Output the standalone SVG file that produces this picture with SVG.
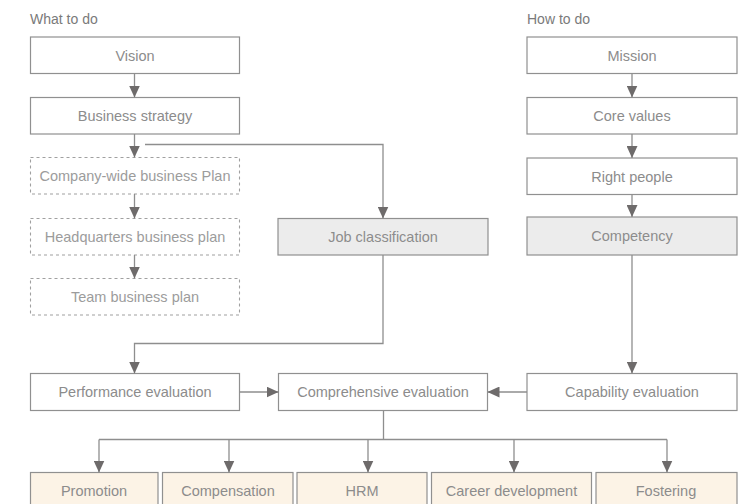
<svg xmlns="http://www.w3.org/2000/svg" width="739" height="504" viewBox="0 0 739 504">
  <style>
    .box { fill: #ffffff; stroke: #909090; stroke-width: 1.2; }
    .dash { fill: #ffffff; stroke: #a0a0a0; stroke-width: 1.1; stroke-dasharray: 3 3; }
    .grey { fill: #ececec; stroke: #909090; stroke-width: 1.2; }
    .out { fill: #fcf3e6; stroke: #909090; stroke-width: 1.2; }
    .lbl { font-family: "Liberation Sans", Arial, sans-serif; font-size: 14.5px; fill: #8c8c8c; text-anchor: middle; }
    .lbl.light { fill: #9c9c9c; }
    .head { font-family: "Liberation Sans", Arial, sans-serif; font-size: 14px; fill: #7a7a7a; }
    .conn { fill: none; stroke: #8e8e8e; stroke-width: 1.3; }
    .conn.arr { marker-end: url(#head); }
  </style>
  <defs>
    <marker id="head" viewBox="0 0 12 11" refX="12" refY="5.5" markerWidth="12" markerHeight="11" markerUnits="userSpaceOnUse" orient="auto">
      <path d="M0,0 L12,5.5 L0,11 z" fill="#6e6b6b"/>
    </marker>
  </defs>

  <text class="head" x="30" y="24">What to do</text>
  <text class="head" x="527" y="24">How to do</text>

  <!-- left column -->
  <g id="vision"><rect class="box" x="30.5" y="37" width="209" height="36.5"/><text class="lbl" x="135" y="60.5">Vision</text></g>
  <g id="business-strategy"><rect class="box" x="30.5" y="97.5" width="209" height="36.5"/><text class="lbl" x="135" y="121">Business strategy</text></g>
  <g id="company-plan"><rect class="dash" x="30.5" y="157.5" width="209" height="36.5"/><text class="lbl light" x="135" y="181">Company-wide business Plan</text></g>
  <g id="hq-plan"><rect class="dash" x="30.5" y="218.5" width="209" height="36.5"/><text class="lbl light" x="135" y="242">Headquarters business plan</text></g>
  <g id="team-plan"><rect class="dash" x="30.5" y="278.5" width="209" height="36.5"/><text class="lbl light" x="135" y="302">Team business plan</text></g>

  <!-- middle -->
  <g id="job-classification"><rect class="grey" x="278" y="218.5" width="210" height="36.5"/><text class="lbl" x="383" y="242">Job classification</text></g>

  <!-- right column -->
  <g id="mission"><rect class="box" x="527" y="37" width="210" height="36.5"/><text class="lbl" x="632" y="60.5">Mission</text></g>
  <g id="core-values"><rect class="box" x="527" y="97.5" width="210" height="36.5"/><text class="lbl" x="632" y="121">Core values</text></g>
  <g id="right-people"><rect class="box" x="527" y="158" width="210" height="36.5"/><text class="lbl" x="632" y="181.5">Right people</text></g>
  <g id="competency"><rect class="grey" x="527" y="217" width="210" height="38"/><text class="lbl" x="632" y="241">Competency</text></g>

  <!-- evaluation row -->
  <g id="performance-evaluation"><rect class="box" x="30.5" y="373.5" width="209" height="37"/><text class="lbl" x="135" y="397">Performance evaluation</text></g>
  <g id="comprehensive-evaluation"><rect class="box" x="278.5" y="373.5" width="209" height="37"/><text class="lbl" x="383" y="397">Comprehensive evaluation</text></g>
  <g id="capability-evaluation"><rect class="box" x="527" y="373.5" width="210" height="37"/><text class="lbl" x="632" y="397">Capability evaluation</text></g>

  <!-- outcomes -->
  <g id="promotion"><rect class="out" x="30.5" y="472.5" width="127.5" height="37"/><text class="lbl" x="94" y="496">Promotion</text></g>
  <g id="compensation"><rect class="out" x="162.5" y="472.5" width="130.5" height="37"/><text class="lbl" x="228" y="496">Compensation</text></g>
  <g id="hrm"><rect class="out" x="297" y="472.5" width="130" height="37"/><text class="lbl" x="362" y="496">HRM</text></g>
  <g id="career-development"><rect class="out" x="431.5" y="472.5" width="160" height="37"/><text class="lbl" x="511.5" y="496">Career development</text></g>
  <g id="fostering"><rect class="out" x="596" y="472.5" width="141" height="37"/><text class="lbl" x="666" y="496">Fostering</text></g>

  <g id="connectors">
    <line class="conn arr" x1="134.5" y1="73.5" x2="134.5" y2="97.5"/>
    <line class="conn arr" x1="134.5" y1="134" x2="134.5" y2="157.5"/>
    <polyline class="conn arr" points="145,144.5 383,144.5 383,218.5"/>
    <line class="conn arr" x1="134.5" y1="194" x2="134.5" y2="218.5"/>
    <line class="conn arr" x1="134.5" y1="255" x2="134.5" y2="278.5"/>
    <polyline class="conn arr" points="383,255 383,343.5 134.5,343.5 134.5,373.5"/>
    <line class="conn arr" x1="239.5" y1="392" x2="278.5" y2="392"/>
    <line class="conn arr" x1="527" y1="392" x2="487.5" y2="392"/>

    <line class="conn arr" x1="632" y1="73.5" x2="632" y2="97.5"/>
    <line class="conn arr" x1="632" y1="134" x2="632" y2="158"/>
    <line class="conn arr" x1="632" y1="194.5" x2="632" y2="217"/>
    <line class="conn arr" x1="632" y1="255" x2="632" y2="373.5"/>

    <line class="conn" x1="383.5" y1="410.5" x2="383.5" y2="439.5"/>
    <line class="conn" x1="99" y1="439.5" x2="667" y2="439.5"/>
    <line class="conn arr" x1="99" y1="439.5" x2="99" y2="472.5"/>
    <line class="conn arr" x1="229" y1="439.5" x2="229" y2="472.5"/>
    <line class="conn arr" x1="368" y1="439.5" x2="368" y2="472.5"/>
    <line class="conn arr" x1="514" y1="439.5" x2="514" y2="472.5"/>
    <line class="conn arr" x1="667" y1="439.5" x2="667" y2="472.5"/>
  </g>
</svg>
